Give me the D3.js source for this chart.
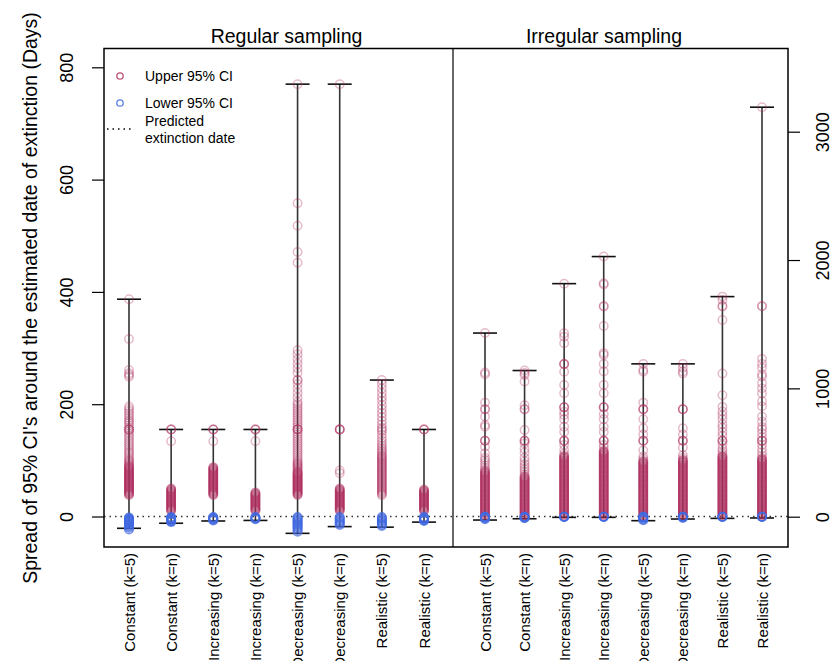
<!DOCTYPE html>
<html><head><meta charset="utf-8">
<script src="https://cdn.jsdelivr.net/npm/d3@7/dist/d3.min.js"></script>
<style>
body{margin:0;background:#fff;}
text{font-family:"Liberation Sans",Arial,Helvetica,sans-serif;fill:#000;}
</style></head>
<body>
<svg id="chart" width="832" height="661"></svg>
<script>
const categories = ["Constant (k=5)","Constant (k=n)","Increasing (k=5)","Increasing (k=n)","Decreasing (k=5)","Decreasing (k=n)","Realistic (k=5)","Realistic (k=n)"];
const panelTitles = ["Regular sampling","Irregular sampling"];
const regTicks = [0,200,400,600,800];
const irrTicks = [0,1000,2000,3000];

const regUpper = [
 [387,316,261,255,252,249,196,192,188,184,180,176,172,169,166,162,158,155,155,155,152,148,144,140,136,132,128,124,120,116,113,110,106,103,100,98,96,94,92,90,89,88,87,86,85,84,83,82,81,80,79,78,77,76,75,74,73,72,71,70,69,68,67,66,65,64,63,62,61,60,59,58,57,56,55,54,53,52,51,50,49,48,47,46,45,44,43,42,41,40,39,38],
 [155,155,155,134,50,49,48,47,46,45,44,43,42,41,40,39,38,37,36,35,34,33,32,31,30,29,28,27,26,25,24,23,22,21,20,19,18,17,16,15,14,13,12,11,10],
 [155,155,155,134,88,87,86,85,84,83,82,81,80,79,78,77,76,75,74,73,72,71,70,69,68,67,66,65,64,63,62,61,60,59,58,57,56,55,54,53,52,51,50,49,48,47,46,45,44,43,42,41,40,39,38],
 [155,155,155,134,43,42,41,40,39,38,37,36,35,34,33,32,31,30,29,28,27,26,25,24,23,22,21,20,19,18,17,16,15,14,13,12,11,10],
 [770,558,518,471,452,296,289,280,272,264,256,243,243,236,228,220,212,204,200,196,192,188,184,180,176,172,168,164,160,156,155,155,155,150,146,142,138,134,130,126,122,118,114,110,106,102,99,96,94,92,90,88,86,84,82,80,79,78,77,76,75,74,73,72,71,70,69,68,67,66,65,64,63,62,61,60,59,58,57,56,55,54,53,52,51,50,49,48,47,46,45,44,43,42,41,40,39,38],
 [770,155,155,155,155,82,77,50,49,48,47,46,45,44,43,42,41,40,39,38,37,36,35,34,33,32,31,30,29,28,27,26,25,24,23,22,21,20,19,18,17,16,15,14,13,12,11,10],
 [243,236,228,220,213,206,198,191,184,177,170,164,158,155,152,146,140,135,130,126,122,119,116,113,110,108,106,104,102,100,98,96,94,92,90,88,86,84,82,80,78,76,74,72,70,68,66,64,62,60,58,56,54,52,50,48,46,44,42,40,38],
 [155,155,155,48,47,46,45,44,43,42,41,40,39,38,37,36,35,34,33,32,31,30,29,28,27,26,25,24,23,22,21,20,19,18,17,16,15,14,13,12,11,10]
];
const regLower = [
 [-2,-3,-4,-5,-6,-7,-8,-9,-10,-11,-12,-13,-14,-16,-18,-20,-23],
 [-1,-2,-3,-4,-5,-6,-7,-8,-9,-10],
 [-1,-2,-3,-4,-5,-6,-7],
 [-1,-2,-3,-4,-5],
 [-1,-3,-5,-7,-9,-11,-13,-15,-17,-19,-21,-24,-27],
 [-1,-3,-5,-7,-9,-11,-13,-15],
 [-1,-3,-5,-7,-9,-11,-13,-15,-17],
 [-1,-2,-3,-4,-5,-6,-7,-8]
];
const regMax = [387,155,155,155,770,770,243,155];
const regMin = [-21,-12,-8,-7,-30,-18,-19,-10];

const irrUpper = [
 [1431,1124,1110,889,837,837,780,715,700,592,592,592,545,494,460,442,420,400,380,365,
  355,350,345,340,335,330,325,320,315,310,305,300,295,290,285,280,275,270,265,260,255,250,245,240,235,230,225,220,215,210,205,200,195,190,185,180,175,170,165,160,155,150,145,140,135,130,125,120,115,110,105,100,95,90,85,80,75,70,65,60,55,50,45,40,35,30,25,20,15,10,5],
 [1139,1120,1105,1053,868,837,837,676,592,592,592,570,530,500,460,433,410,390,370,350,330,
  315,310,305,300,295,290,285,280,275,270,265,260,255,250,245,240,235,230,225,220,215,210,205,200,195,190,185,180,175,170,165,160,155,150,145,140,135,130,125,120,115,110,105,100,95,90,85,80,75,70,65,60,55,50,45,40,35,30,25,20,15,10,5],
 [1816,1429,1403,1351,1190,1190,1190,1130,1026,962,853,853,853,818,793,760,701,660,592,592,592,560,520,490,
  475,470,465,460,455,450,445,440,435,430,425,420,415,410,405,400,395,390,385,380,375,370,365,360,355,350,345,340,335,330,325,320,315,310,305,300,295,290,285,280,275,270,265,260,255,250,245,240,235,230,225,220,215,210,205,200,195,190,185,180,175,170,165,160,155,150,145,140,135,130,125,120,115,110,105,100,95,90,85,80,75,70,65,60,55,50,45,40,35,30,25,20,15,10,5],
 [2027,1819,1810,1642,1637,1486,1275,1260,1190,1131,1027,962,853,853,853,800,760,700,660,592,592,592,560,540,
  515,510,505,500,495,490,485,480,475,470,465,460,455,450,445,440,435,430,425,420,415,410,405,400,395,390,385,380,375,370,365,360,355,350,345,340,335,330,325,320,315,310,305,300,295,290,285,280,275,270,265,260,255,250,245,240,235,230,225,220,215,210,205,200,195,190,185,180,175,170,165,160,155,150,145,140,135,130,125,120,115,110,105,100,95,90,85,80,75,70,65,60,55,50,45,40,35,30,25,20,15,10,5],
 [1191,1144,1130,889,837,837,837,760,689,640,592,592,592,517,470,450,
  435,430,425,420,415,410,405,400,395,390,385,380,375,370,365,360,355,350,345,340,335,330,325,320,315,310,305,300,295,290,285,280,275,270,265,260,255,250,245,240,235,230,225,220,215,210,205,200,195,190,185,180,175,170,165,160,155,150,145,140,135,130,125,120,115,110,105,100,95,90,85,80,75,70,65,60,55,50,45,40,35,30,25,20,15,10,5],
 [1191,1160,1131,1115,837,837,837,689,640,592,592,592,540,480,460,
  445,440,435,430,425,420,415,410,405,400,395,390,385,380,375,370,365,360,355,350,345,340,335,330,325,320,315,310,305,300,295,290,285,280,275,270,265,260,255,250,245,240,235,230,225,220,215,210,205,200,195,190,185,180,175,170,165,160,155,150,145,140,135,130,125,120,115,110,105,100,95,90,85,80,75,70,65,60,55,50,45,40,35,30,25,20,15,10,5],
 [1715,1688,1642,1637,1533,1116,947,856,820,790,760,720,693,660,630,592,592,592,560,530,510,490,
  475,470,465,460,455,450,445,440,435,430,425,420,415,410,405,400,395,390,385,380,375,370,365,360,355,350,345,340,335,330,325,320,315,310,305,300,295,290,285,280,275,270,265,260,255,250,245,240,235,230,225,220,215,210,205,200,195,190,185,180,175,170,165,160,155,150,145,140,135,130,125,120,115,110,105,100,95,90,85,80,75,70,65,60,55,50,45,40,35,30,25,20,15,10,5],
 [3191,1642,1639,1230,1191,1160,1110,1090,1040,1000,960,900,860,780,740,700,680,650,620,592,592,592,560,530,500,475,
  455,450,445,440,435,430,425,420,415,410,405,400,395,390,385,380,375,370,365,360,355,350,345,340,335,330,325,320,315,310,305,300,295,290,285,280,275,270,265,260,255,250,245,240,235,230,225,220,215,210,205,200,195,190,185,180,175,170,165,160,155,150,145,140,135,130,125,120,115,110,105,100,95,90,85,80,75,70,65,60,55,50,45,40,35,30,25,20,15,10,5]
];
const irrLower = [
 [0,0,0,-4,-8,-14,-20],
 [0,0,0,-4,-8,-12],
 [0,0,0,-3],
 [0,0,0,-3],
 [0,0,0,-5,-10,-16,-22,-28],
 [0,0,0,-5,-10],
 [0,0,0,-3],
 [0,0,0,-3]
];
const irrMax = [1431,1139,1816,2027,1191,1191,1715,3191];
const irrMin = [-26,-16,-5,-5,-31,-18,-13,-10];

const legendItems = ["Upper 95% CI","Lower 95% CI"];
const ylabText = "Spread of 95% CI's around the estimated date of extinction (Days)";

const upperColor = "#B03060", lowerColor = "#4169E1";

const svg = d3.select("#chart");
const box = {left:104, right:788, top:48.5, bottom:547, mid:453};

const xReg = d3.scalePoint().domain(categories).range([129, 424]);
const xIrr = d3.scalePoint().domain(categories).range([485, 762]);
const yReg = d3.scaleLinear().domain([0, 800]).range([516.5, 67.3]);
const yIrr = d3.scaleLinear().domain([0, 3000]).range([516.7, 131.7]);

// zero line
svg.append("line").attr("x1", box.left).attr("x2", box.right)
  .attr("y1", yReg(0)).attr("y2", yReg(0))
  .attr("stroke", "#333").attr("stroke-width", 1.5).attr("stroke-dasharray", "1.5,4");

function drawPanel(x, y, upper, lower, mx, mn) {
  const g = svg.append("g");
  categories.forEach((c, i) => {
    const cx = x(c);
    g.append("line").attr("x1", cx).attr("x2", cx).attr("y1", y(mn[i])).attr("y2", y(mx[i]))
      .attr("stroke", "#333").attr("stroke-width", 1.6);
    [mx[i], mn[i]].forEach(v => {
      g.append("line").attr("x1", cx - 12).attr("x2", cx + 12).attr("y1", y(v)).attr("y2", y(v))
        .attr("stroke", "#111").attr("stroke-width", 1.6);
    });
    g.selectAll(null).data(upper[i]).enter().append("circle")
      .attr("cx", cx).attr("cy", d => y(d)).attr("r", 4.2)
      .attr("fill", "none").attr("stroke", upperColor).attr("stroke-opacity", 0.33).attr("stroke-width", 1.5);
    g.selectAll(null).data(lower[i]).enter().append("circle")
      .attr("cx", cx).attr("cy", d => y(d)).attr("r", 4.2)
      .attr("fill", "none").attr("stroke", lowerColor).attr("stroke-opacity", 0.7).attr("stroke-width", 1.6);
  });
}
drawPanel(xReg, yReg, regUpper, regLower, regMax, regMin);
drawPanel(xIrr, yIrr, irrUpper, irrLower, irrMax, irrMin);

// box
svg.append("rect").attr("x", box.left).attr("y", box.top)
  .attr("width", box.right - box.left).attr("height", box.bottom - box.top)
  .attr("fill", "none").attr("stroke", "#000").attr("stroke-width", 1.5);
svg.append("line").attr("x1", box.mid).attr("x2", box.mid).attr("y1", box.top).attr("y2", box.bottom)
  .attr("stroke", "#000").attr("stroke-width", 1.2);

// left axis
const la = svg.append("g").attr("transform", `translate(${box.left},0)`)
  .call(d3.axisLeft(yReg).tickValues(regTicks).tickSize(12).tickSizeOuter(0).tickFormat(d3.format("d")));
la.select(".domain").remove();
la.selectAll(".tick line").attr("stroke", "#000").attr("stroke-width", 1.2);
la.selectAll(".tick text").attr("transform", "rotate(-90)").attr("x", 0).attr("y", -31).attr("dy", 0)
  .attr("text-anchor", "middle").style("font-size", "18px").style("font-family", "Liberation Sans, Arial, sans-serif");

// right axis
const ra = svg.append("g").attr("transform", `translate(${box.right},0)`)
  .call(d3.axisRight(yIrr).tickValues(irrTicks).tickSize(12).tickSizeOuter(0).tickFormat(d3.format("d")));
ra.select(".domain").remove();
ra.selectAll(".tick line").attr("stroke", "#000").attr("stroke-width", 1.2);
ra.selectAll(".tick text").attr("transform", "rotate(-90)").attr("x", 0).attr("y", 40.5).attr("dy", 0)
  .attr("text-anchor", "middle").style("font-size", "18px").style("font-family", "Liberation Sans, Arial, sans-serif");

// category labels
[xReg, xIrr].forEach(x => {
  svg.append("g").selectAll("text").data(categories).enter().append("text")
    .attr("transform", d => `translate(${x(d) + 5.5},553) rotate(-90)`)
    .attr("text-anchor", "end").style("font-size", "15px").text(d => d);
});

// titles
svg.append("text").attr("x", 286.5).attr("y", 43).attr("text-anchor", "middle").style("font-size", "19.5px").text(panelTitles[0]);
svg.append("text").attr("x", 604).attr("y", 43).attr("text-anchor", "middle").style("font-size", "19.5px").text(panelTitles[1]);

// y label
svg.append("text").attr("transform", "translate(37,298) rotate(-90)").attr("text-anchor", "middle")
  .style("font-size", "19.5px").text(ylabText);

// legend
const lg = svg.append("g");
[upperColor, lowerColor].forEach((col, i) => {
  lg.append("circle").attr("cx", 120).attr("cy", 76 + i * 27).attr("r", 3.2)
    .attr("fill", "none").attr("stroke", col).attr("stroke-width", 1.3).attr("stroke-opacity", 0.85);
  lg.append("text").attr("x", 145).attr("y", 81 + i * 27).style("font-size", "14px").text(legendItems[i]);
});
lg.append("line").attr("x1", 107).attr("x2", 132).attr("y1", 129).attr("y2", 129)
  .attr("stroke", "#000").attr("stroke-width", 1.3).attr("stroke-dasharray", "1.5,4");
lg.append("text").attr("x", 145).attr("y", 126).style("font-size", "14px").text("Predicted");
lg.append("text").attr("x", 145).attr("y", 143).style("font-size", "14px").text("extinction date");
</script>
</body></html>
